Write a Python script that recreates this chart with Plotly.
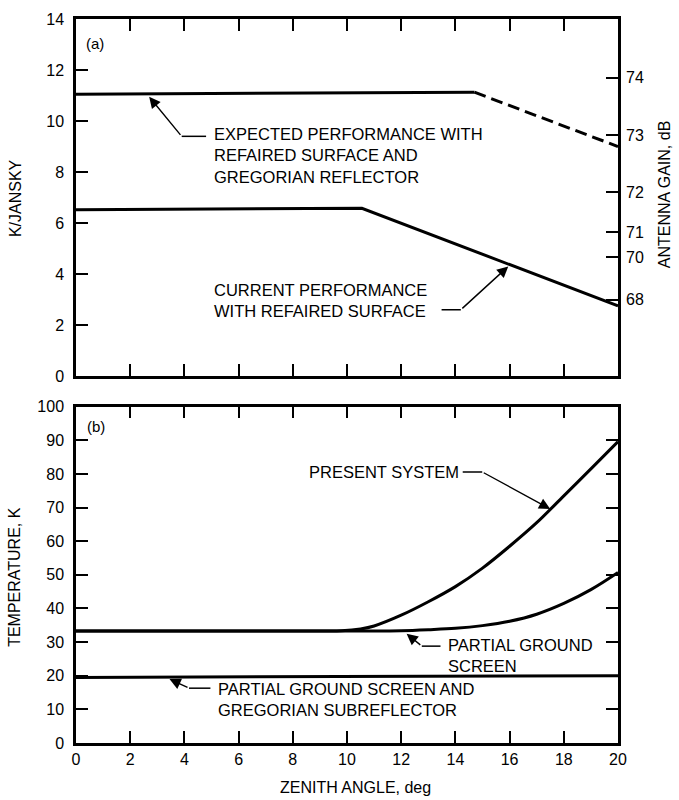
import plotly.graph_objects as go

# ---------------- data ----------------
# Panel (a): K/Jansky vs zenith angle
exp_solid_x = [0, 14.7]
exp_solid_y = [11.05, 11.13]
exp_dash_x = [14.7, 20]
exp_dash_y = [11.13, 9.0]
cur_x = [0, 10.55, 20]
cur_y = [6.52, 6.58, 2.75]

# right-hand antenna-gain scale: labels and their positions on the K/Jansky scale
gain_labels = ["74", "73", "72", "71", "70", "68"]
gain_pos = [11.7, 9.45, 7.2, 5.65, 4.65, 3.0]

# Panel (b): temperature vs zenith angle
present_x = [0, 8, 9, 9.8, 10.5, 11, 12, 13, 14, 15, 16, 17, 18, 19, 20]
present_y = [33.3, 33.3, 33.3, 33.35, 33.9, 34.8, 38.0, 42.0, 46.5, 52.0, 58.5, 65.5, 73.5, 81.5, 89.6]
pgs_x = [0, 10, 11, 12, 13, 14, 15, 16, 17, 18, 19, 20]
pgs_y = [33.3, 33.3, 33.3, 33.4, 33.7, 34.1, 34.9, 36.2, 38.3, 41.5, 45.6, 50.7]
greg_x = [0, 20]
greg_y = [19.5, 20.0]

top_ticks_x = [2, 4, 6, 8, 10, 12, 14, 16, 18]
bottom_ticks_x = [0, 2, 4, 6, 8, 10, 12, 14, 16, 18, 20]
kjy_ticks = [0, 2, 4, 6, 8, 10, 12, 14]
temp_ticks = [0, 10, 20, 30, 40, 50, 60, 70, 80, 90, 100]

FONT = "Liberation Sans, Arial, Helvetica, sans-serif"
LW = 3
TICKSIZE = 16

fig = go.Figure()
line = dict(color="black", width=LW)
fig.add_trace(go.Scatter(x=exp_solid_x, y=exp_solid_y, mode="lines", line=line, xaxis="x", yaxis="y"))
fig.add_trace(go.Scatter(x=exp_dash_x, y=exp_dash_y, mode="lines",
                         line=dict(color="black", width=LW, dash="12px,6px"), xaxis="x", yaxis="y"))
fig.add_trace(go.Scatter(x=cur_x, y=cur_y, mode="lines", line=line, xaxis="x", yaxis="y"))
# invisible trace so that the right-hand gain axis is drawn
fig.add_trace(go.Scatter(x=[20] * len(gain_pos), y=gain_pos, mode="markers",
                         marker=dict(opacity=0), hoverinfo="skip", xaxis="x", yaxis="y3"))
fig.add_trace(go.Scatter(x=present_x, y=present_y, mode="lines",
                         line=dict(color="black", width=LW, shape="spline", smoothing=0.9),
                         xaxis="x2", yaxis="y2"))
fig.add_trace(go.Scatter(x=pgs_x, y=pgs_y, mode="lines",
                         line=dict(color="black", width=LW, shape="spline", smoothing=1.0),
                         xaxis="x2", yaxis="y2"))
fig.add_trace(go.Scatter(x=greg_x, y=greg_y, mode="lines", line=line, xaxis="x2", yaxis="y2"))

axis_common = dict(showgrid=False, zeroline=False, showline=True, linecolor="black", linewidth=2.5,
                   ticks="inside", ticklen=12, tickwidth=2, tickcolor="black",
                   tickfont=dict(family=FONT, size=TICKSIZE, color="black"))

TOP_DOM = [0.5068, 1.0]
BOT_DOM = [0.0, 0.4645]

fig.update_layout(
    width=679, height=800,
    margin=dict(l=76, r=61, t=11, b=57),
    paper_bgcolor="white", plot_bgcolor="white",
    showlegend=False,
    font=dict(family=FONT, color="black"),
    xaxis=dict(domain=[0, 1], anchor="y", range=[0, 20], tickvals=top_ticks_x,
               showticklabels=False, mirror="ticks", **axis_common),
    yaxis=dict(domain=TOP_DOM, anchor="x", range=[0, 14], tickvals=kjy_ticks,
               mirror=True, ticklabelstandoff=6, **axis_common),
    yaxis3=dict(overlaying="y", anchor="x", side="right", range=[0, 14], tickvals=gain_pos,
                ticktext=gain_labels, showgrid=False, zeroline=False, showline=False,
                ticks="inside", ticklen=12, tickwidth=2, tickcolor="black", ticklabelstandoff=7,
                tickfont=dict(family=FONT, size=TICKSIZE, color="black")),
    xaxis2=dict(domain=[0, 1], anchor="y2", range=[0, 20], tickvals=bottom_ticks_x,
                mirror="ticks", ticklabelstandoff=0, **axis_common),
    yaxis2=dict(domain=BOT_DOM, anchor="x2", range=[0, 100], tickvals=temp_ticks,
                mirror="ticks", ticklabelstandoff=6, **axis_common),
)

ann = []
shapes = []
TF = dict(family=FONT, size=16, color="black")


def label(text, x, y, xr, yr, xanchor="left", size=16.5):
    ann.append(dict(text=text, x=x, y=y, xref=xr, yref=yr, xanchor=xanchor, yanchor="middle",
                    align="left", showarrow=False, font=dict(family=FONT, size=size, color="black")))


def leader(x0, x1, y, hx, hy, xr, yr):
    shapes.append(dict(type="line", x0=x0, x1=x1, y0=y, y1=y, xref=xr, yref=yr,
                       line=dict(color="black", width=1.5)))
    ann.append(dict(text="", x=hx, y=hy, ax=x0, ay=y, xref=xr, yref=yr, axref=xr, ayref=yr,
                    showarrow=True, arrowhead=2, arrowsize=1.6, arrowwidth=1.4, arrowcolor="black"))


# Panel (a)
label("(a)", 0.7, 13.05, "x", "y", xanchor="center", size=15)
label("EXPECTED PERFORMANCE WITH<br>REFAIRED SURFACE AND<br>GREGORIAN REFLECTOR", 5.02, 8.64, "x", "y")
leader(3.9, 4.8, 9.4, 2.7, 10.95, "x", "y")
label("CURRENT PERFORMANCE<br>WITH REFAIRED SURFACE", 5.02, 2.95, "x", "y")
leader(14.2, 13.49, 2.6, 15.95, 4.3, "x", "y")

# Panel (b)
label("(b)", 0.75, 94, "x2", "y2", xanchor="center", size=15)
label("PRESENT SYSTEM", 8.52, 80.6, "x2", "y2")
leader(14.99, 14.27, 80.6, 17.5, 69.6, "x2", "y2")
label("PARTIAL GROUND<br>SCREEN", 13.65, 26.0, "x2", "y2")
leader(12.76, 13.45, 28.8, 12.2, 32.5, "x2", "y2")
label("PARTIAL GROUND SCREEN AND<br>GREGORIAN SUBREFLECTOR", 5.17, 12.8, "x2", "y2")
leader(4.17, 4.96, 16.3, 3.45, 19.0, "x2", "y2")


# Axis titles
def title(text, x, y, angle):
    ann.append(dict(text=text, x=x, y=y, xref="paper", yref="paper", xanchor="center",
                    yanchor="middle", textangle=angle, showarrow=False, font=TF))


title("K/JANSKY", -0.1125, 0.7527, -90)
title("ANTENNA GAIN, dB", 1.085, 0.758, -90)
title("TEMPERATURE, K", -0.1125, 0.2295, -90)
title("ZENITH ANGLE, deg", 0.515, -0.0615, 0)

fig.update_layout(annotations=ann, shapes=shapes)
fig.write_html("out.html")
